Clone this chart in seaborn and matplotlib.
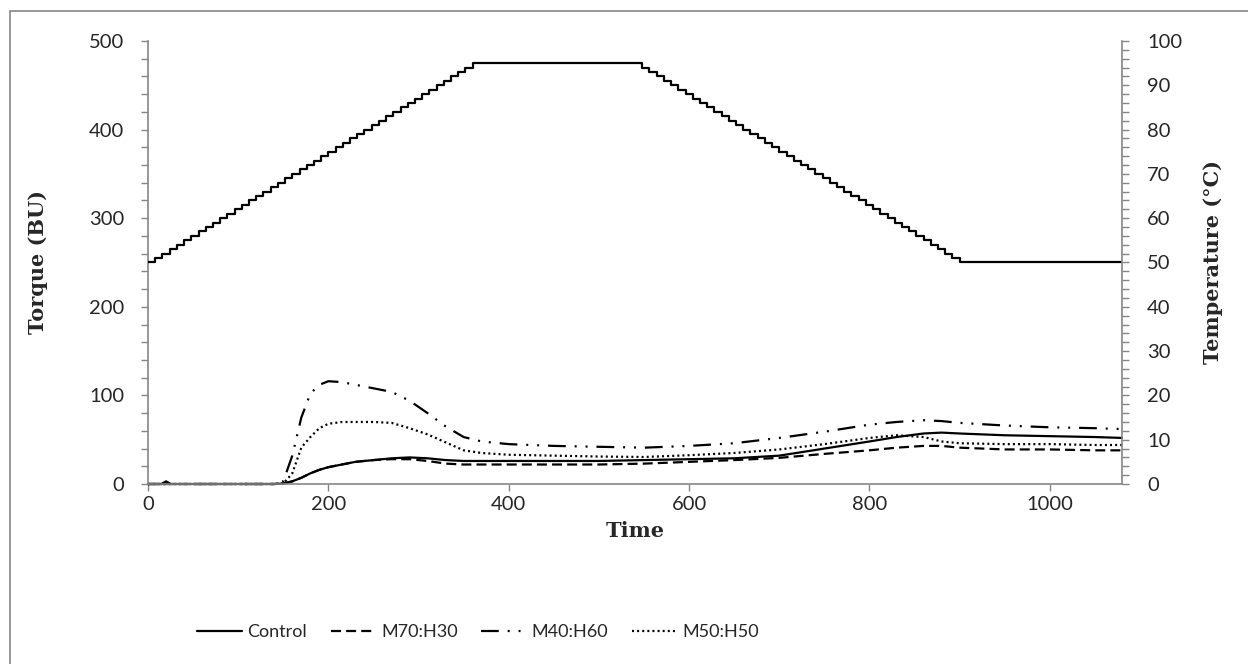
import numpy as np
import pandas as pd
import seaborn as sns
import matplotlib.pyplot as plt
from matplotlib.patches import Rectangle
from matplotlib.ticker import MultipleLocator

# torque readings (BU)
time_s = [0, 15, 20, 25, 60, 100, 140, 150, 160, 170, 180, 190, 200, 215, 230,
          250, 270, 290, 310, 330, 350, 370, 400, 450, 500, 550, 600, 650, 700,
          750, 800, 830, 860, 880, 900, 950, 1000, 1050, 1080]
control = [0, 0, 3, 0, 0, 0, 0, 0.5, 3, 7, 12, 16, 19, 22, 25,
           27, 29, 30, 29, 27, 26, 26, 26, 26, 26, 27, 28, 29, 32,
           40, 48, 53, 57, 58, 57, 55, 54, 53, 52]
m70_h30 = [0, 0, 0, 0, 0, 0, 0, 0.5, 3, 7, 12, 16, 19, 22, 25,
           27, 28, 28, 26, 23, 22, 22, 22, 22, 22, 23, 25, 27, 29.5,
           34, 38, 41, 43, 43, 41, 39, 39, 38, 38]
m40_h60 = [0, 0, 0, 0, 0, 0, 0, 3, 32, 75, 102, 112, 116, 115, 112,
           108, 104, 94, 80, 65, 53, 48, 45, 43, 42, 41, 43, 46, 52,
           59, 67, 70, 72, 71, 69, 66, 64, 63, 62]
m50_h50 = [0, 0, 0, 0, 0, 0, 0, 0.5, 12, 41, 53, 63, 68, 70, 70,
           70, 69, 63, 56, 47, 38, 35, 33, 32, 31, 30.5, 32.5, 35, 39,
           45, 52, 55, 53, 48, 46, 45, 45, 44, 44]
samples = ["Control", "M70:H30", "M40:H60", "M50:H50"]

# temperature program (integer degC, one step every 8 s)
temp_time = [0, 8, 16, 24, 32, 40, 48, 56, 64, 72, 80, 88, 96, 104, 112, 120,
             128, 136, 144, 152, 160, 168, 176, 184, 192, 200, 208, 216, 224,
             232, 240, 248, 256, 264, 272, 280, 288, 296, 304, 312, 320, 328,
             336, 344, 352, 360,
             540, 548, 556, 564, 572, 580, 588, 596, 604, 612, 620, 628, 636,
             644, 652, 660, 668, 676, 684, 692, 700, 708, 716, 724, 732, 740,
             748, 756, 764, 772, 780, 788, 796, 804, 812, 820, 828, 836, 844,
             852, 860, 868, 876, 884, 892, 900, 1080]
temp_c = [50, 51, 52, 53, 54, 55, 56, 57, 58, 59, 60, 61, 62, 63, 64, 65,
          66, 67, 68, 69, 70, 71, 72, 73, 74, 75, 76, 77, 78, 79, 80, 81,
          82, 83, 84, 85, 86, 87, 88, 89, 90, 91, 92, 93, 94, 95,
          95, 94, 93, 92, 91, 90, 89, 88, 87, 86, 85, 84, 83, 82, 81, 80,
          79, 78, 77, 76, 75, 74, 73, 72, 71, 70, 69, 68, 67, 66, 65, 64,
          63, 62, 61, 60, 59, 58, 57, 56, 55, 54, 53, 52, 51, 50, 50]

df = pd.DataFrame({
    "Time": time_s * 4,
    "Torque": control + m70_h30 + m40_h60 + m50_h50,
    "Sample": np.repeat(samples, len(time_s)),
})

sns.set_style("white")
plt.rcParams["font.family"] = ["Lato", "DejaVu Sans"]
grey = "#868686"
serif = dict(family="DejaVu Serif", fontweight="bold", fontsize=15)

fig = plt.figure(figsize=(12.48, 6.64), dpi=100)
ax = fig.add_axes([148 / 1248, 1 - 484 / 664, 974 / 1248, 443 / 664])
ax2 = ax.twinx()

dashes = {"Control": "", "M70:H30": (4.5, 2.3),
          "M40:H60": (8, 4, 0.9, 4, 0.9, 4), "M50:H50": (0.9, 1.4)}
sns.lineplot(data=df, x="Time", y="Torque", hue="Sample", style="Sample",
             palette={s: "black" for s in samples}, dashes=dashes,
             hue_order=samples, style_order=samples,
             linewidth=1.6, estimator=None, ax=ax)
for ln in ax.get_lines():
    ln.set_clip_on(False)

sns.lineplot(x=temp_time, y=temp_c, ax=ax2, color="black", linewidth=1.6,
             drawstyle="steps-post", estimator=None)

ax.set_xlim(0, 1080)
ax.set_ylim(0, 500)
ax2.set_ylim(0, 100)
ax.xaxis.set_major_locator(MultipleLocator(200))
ax.yaxis.set_major_locator(MultipleLocator(100))
ax.yaxis.set_minor_locator(MultipleLocator(20))
ax2.yaxis.set_major_locator(MultipleLocator(10))
ax2.yaxis.set_minor_locator(MultipleLocator(2))

for a in (ax, ax2):
    for s in a.spines.values():
        s.set_color(grey)
        s.set_linewidth(1.2)
    a.spines["top"].set_visible(False)
ax.spines["right"].set_visible(False)
ax2.spines["left"].set_visible(False)
ax2.spines["bottom"].set_visible(False)

ax.tick_params(axis="both", which="both", direction="out", length=5, width=1,
               color=grey, labelsize=14.5, left=True, bottom=True)
ax.tick_params(axis="y", pad=12)
ax.tick_params(axis="x", pad=4)
ax2.tick_params(axis="y", which="both", direction="out", length=5, width=1,
                color=grey, labelsize=14.5, pad=13, right=True)

ax.set_xlabel("Time", **serif)
ax.set_ylabel("Torque (BU)", **serif)
ax2.set_ylabel("Temperature (°C)", **serif)
ax.xaxis.set_label_coords(0.5, -0.083)
ax.yaxis.set_label_coords(-0.1027, 0.5)
ax2.yaxis.set_label_coords(1.083, 0.5)

handles, labels = ax.get_legend_handles_labels()
ax.get_legend().remove()
fig.legend(handles, labels, loc="center", bbox_to_anchor=(478 / 1248, 0.048),
           ncol=4, frameon=False, fontsize=13, handlelength=2.5,
           handletextpad=0.3, columnspacing=1.3)

fig.add_artist(Rectangle((10 / 1248, -0.05), 1.1, 1 - 11 / 664 + 0.05,
                         transform=fig.transFigure, fill=False,
                         edgecolor=grey, linewidth=1.2, clip_on=False))

fig.savefig("out.png", dpi=100)
